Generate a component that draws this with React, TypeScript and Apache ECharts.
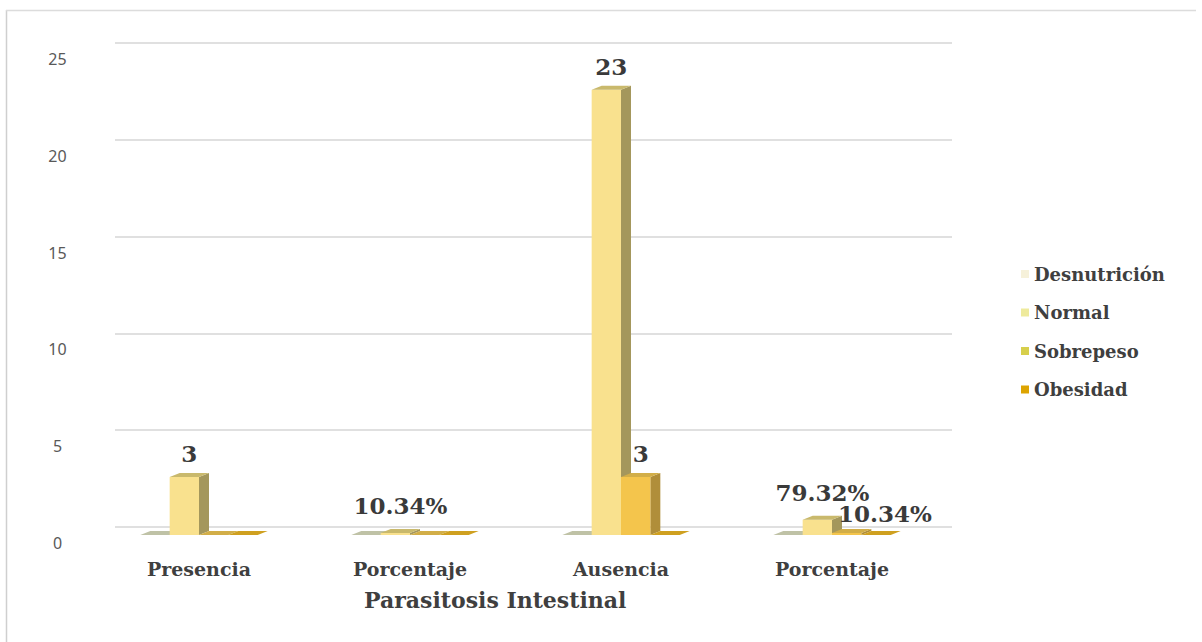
import React, { useEffect, useRef } from "react";
import * as echarts from "echarts";

const categories = ["Presencia", "Porcentaje", "Ausencia", "Porcentaje"];
const seriesNames = ["Desnutrición", "Normal", "Sobrepeso", "Obesidad"];
const desnutricion = [0, 0, 0, 0];
const normal = [3, 0.1034, 23, 0.7932];
const sobrepeso = [0, 0, 3, 0.1034];
const obesidad = [0, 0, 0, 0];
const percentCategory = [false, true, false, true];
const yTicks = { min: 0, max: 25, interval: 5 };
const xTitle = "Parasitosis Intestinal";

const SERIF = '"DejaVu Serif", "Liberation Serif", serif';
const SANS = '"Noto Sans", "Open Sans", sans-serif';

const palette = [
  { front: "#FAF5DE", side: "#D9D6BC", top: "#BFC2A6", legend: "#F6F1DA" },
  { front: "#F9E18E", side: "#A4975C", top: "#C9B96C", legend: "#EEEA9C" },
  { front: "#F4C54C", side: "#B08E3A", top: "#D2AE48", legend: "#D7CF4C" },
  { front: "#E6B526", side: "#A8801C", top: "#CFA020", legend: "#DDA400" },
];

const seriesData = [desnutricion, normal, sobrepeso, obesidad];

function makeRender(sIdx: number) {
  return (params: any, api: any) => {
    const cat = api.value(0);
    const val = api.value(1);
    const base = api.coord([cat, 0]);
    const top = api.coord([cat, val]);
    const catW = api.size([1, 0])[0];
    const slot = catW * 0.139;
    const x0 = base[0] + (sIdx - 2) * slot;
    const x1 = x0 + slot;
    const yb = base[1];
    const yt = top[1];
    const dx = 10;
    const dy = -4;
    const c = palette[sIdx];
    const children: any[] = [
      {
        type: "polygon",
        shape: { points: [[x1, yt], [x1 + dx, yt + dy], [x1 + dx, yb + dy], [x1, yb]] },
        style: { fill: c.side },
      },
      {
        type: "rect",
        shape: { x: x0, y: yt, width: slot, height: Math.max(yb - yt, 0) },
        style: { fill: c.front },
      },
      {
        type: "polygon",
        shape: { points: [[x0, yt], [x1, yt], [x1 + dx, yt + dy], [x0 + dx, yt + dy]] },
        style: { fill: c.top },
      },
    ];
    if (val > 0) {
      const isPct = percentCategory[cat];
      const txt = isPct ? (val * 100).toFixed(2) + "%" : String(val);
      const leftAlign = isPct && sIdx >= 2;
      children.push({
        type: "text",
        x: leftAlign ? x0 + 6 : x0 + (slot + dx) / 2,
        y: yt - (leftAlign ? 19 : isPct ? 27 : 23),
        style: {
          text: txt,
          fill: "#3a3a3a",
          font: `bold 23px ${SERIF}`,
          align: leftAlign ? "left" : "center",
          verticalAlign: "middle",
        },
      });
    }
    return { type: "group", children };
  };
}

export default function App() {
  const ref = useRef<HTMLDivElement>(null);
  useEffect(() => {
    if (!ref.current) return;
    const chart = echarts.init(ref.current, undefined, { renderer: "svg" });
    const option: any = {
      animation: false,
      backgroundColor: "#ffffff",
      grid: [
        { left: 93.5, right: 264.5, top: 51, bottom: 107 },
        { left: 115, right: 250, top: 43, bottom: 115 },
      ],
      xAxis: [
        {
          type: "category",
          gridIndex: 0,
          data: categories,
          axisLine: { show: false },
          axisTick: { show: false },
          axisLabel: {
            margin: 24,
            color: "#3f3f3f",
            fontFamily: SERIF,
            fontWeight: "bold",
            fontSize: 19,
          },
        },
        {
          type: "category",
          gridIndex: 1,
          data: categories,
          show: false,
        },
      ],
      yAxis: [
        {
          type: "value",
          gridIndex: 0,
          min: yTicks.min,
          max: yTicks.max,
          interval: yTicks.interval,
          splitLine: { show: false },
          axisLine: { show: false },
          axisTick: { show: false },
          axisLabel: {
            align: "center",
            verticalAlign: "top",
            margin: 36,
            color: "#595959",
            fontFamily: SANS,
            fontSize: 16,
          },
        },
        {
          type: "value",
          gridIndex: 1,
          min: yTicks.min,
          max: yTicks.max,
          interval: yTicks.interval,
          axisLine: { show: false },
          axisTick: { show: false },
          axisLabel: { show: false },
          splitLine: { show: true, lineStyle: { color: "#d6d6d6", width: 1.5 } },
        },
      ],
      legend: {
        orient: "vertical",
        left: 1016,
        top: 260,
        itemGap: 20.5,
        itemWidth: 8,
        itemHeight: 8,
        icon: "rect",
        data: seriesNames,
        textStyle: {
          color: "#3f3f3f",
          fontFamily: SERIF,
          fontWeight: "bold",
          fontSize: 18,
        },
      },
      series: seriesNames.map((name, i) => ({
        name,
        type: "custom",
        xAxisIndex: 0,
        yAxisIndex: 0,
        clip: false,
        itemStyle: { color: palette[i].legend },
        renderItem: makeRender(i),
        data: seriesData[i].map((v, k) => [k, v]),
      })),
      graphic: [
        {
          type: "text",
          left: 364,
          top: 589,
          style: {
            text: xTitle,
            fill: "#3f3f3f",
            font: `bold 22px ${SERIF}`,
          },
        },
        {
          type: "line",
          shape: { x1: 6.5, y1: 10, x2: 6.5, y2: 642 },
          style: { stroke: "#cfcfcf", lineWidth: 1.5 },
        },
        {
          type: "line",
          shape: { x1: 6, y1: 10.5, x2: 1196, y2: 10.5 },
          style: { stroke: "#dcdcdc", lineWidth: 1.5 },
        },
      ],
    };
    chart.setOption(option);
    return () => chart.dispose();
  }, []);
  return (
    <div
      ref={ref}
      style={{ position: "absolute", left: 0, top: 0, width: 1202, height: 642 }}
    />
  );
}
